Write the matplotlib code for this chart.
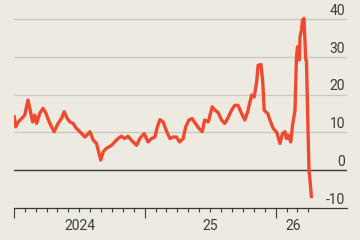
import matplotlib
matplotlib.use("Agg")
import matplotlib.pyplot as plt
import pandas as pd

dates = [
    "2024-01-01", "2024-01-06", "2024-01-13", "2024-01-22", "2024-01-31", "2024-02-09",
    "2024-02-14", "2024-02-22", "2024-02-28", "2024-03-04", "2024-03-13", "2024-03-22",
    "2024-03-30", "2024-04-10", "2024-04-22", "2024-05-03", "2024-05-13", "2024-05-20",
    "2024-05-28", "2024-06-05", "2024-06-14", "2024-06-23", "2024-07-03", "2024-07-17",
    "2024-07-31", "2024-08-09", "2024-08-18", "2024-08-23", "2024-08-30", "2024-09-06",
    "2024-09-15", "2024-09-29", "2024-10-08", "2024-10-17", "2024-10-27", "2024-11-05",
    "2024-11-14", "2024-11-23", "2024-12-08", "2024-12-17", "2024-12-29", "2025-01-09",
    "2025-01-19", "2025-01-28", "2025-02-04", "2025-02-11", "2025-02-20", "2025-03-02",
    "2025-03-11", "2025-03-20", "2025-03-29", "2025-04-07", "2025-04-17", "2025-04-24",
    "2025-05-03", "2025-05-12", "2025-05-21", "2025-05-31", "2025-06-09", "2025-06-16",
    "2025-06-26", "2025-07-07", "2025-07-14", "2025-07-24", "2025-08-02", "2025-08-11",
    "2025-08-19", "2025-08-30", "2025-09-08", "2025-09-17", "2025-09-27", "2025-10-06",
    "2025-10-14", "2025-10-18", "2025-10-25", "2025-11-01", "2025-11-08", "2025-11-12",
    "2025-11-20", "2025-11-25", "2025-11-29", "2025-12-09", "2025-12-15", "2025-12-24",
    "2026-01-03", "2026-01-12", "2026-01-19", "2026-01-26", "2026-01-30", "2026-02-04",
    "2026-02-11", "2026-02-16", "2026-02-23", "2026-02-27", "2026-03-02", "2026-03-07",
    "2026-03-09", "2026-03-13", "2026-03-16", "2026-03-20", "2026-03-23", "2026-03-25",
    "2026-03-27", "2026-03-30", "2026-04-03", "2026-04-05", "2026-04-10",
]
values = [
    14.6, 11.5, 12.8, 13.7, 14.6, 18.6,
    16.4, 12.8, 14.6, 12.4, 15.1, 16.4,
    15.1, 12.4, 10.2, 12.4, 13.8, 15.5,
    13.8, 12.8, 12.4, 11.1, 10.2, 8.8,
    10.2, 8.0, 7.1, 5.3, 2.7, 4.9,
    5.8, 6.6, 7.5, 8.4, 9.0, 8.4,
    9.0, 8.0, 6.6, 8.4, 9.7, 7.5,
    8.4, 8.8, 11.5, 13.4, 12.8, 10.2,
    8.4, 8.8, 8.8, 7.5, 8.4, 11.5,
    13.3, 13.7, 12.4, 11.1, 10.2, 13.3,
    12.8, 16.8, 16.0, 15.2, 13.3, 12.4,
    13.7, 15.9, 17.2, 17.2, 15.0, 13.3,
    15.5, 17.2, 19.9, 19.4, 23.4, 27.8,
    28.0, 23.4, 15.9, 15.0, 13.3, 11.1,
    10.0, 7.1, 9.7, 10.2, 8.4, 9.3,
    7.5, 11.9, 15.9, 30.1, 32.7, 29.2,
    35.4, 37.1, 39.8, 40.2, 33.6, 29.2,
    29.0, 15.9, 0.0, -1.8, -7.4,
]

y_ticks = [-10, 0, 10, 20, 30, 40]
year_labels = ["2024", "25", "26"]
year_label_dates = ["2024-07-02", "2025-07-02", "2026-02-17"]

BG = "#ECEAE1"
GRID = "#C9C6BD"
DARK = "#3a3a3a"
RED = "#EF4A30"

x = pd.to_datetime(dates)

fig = plt.figure(figsize=(3.6, 2.4), dpi=100, facecolor=BG)
ax = fig.add_axes([14 / 360, 0.1333, 333 / 360, 0.8496])
ax.set_facecolor(BG)

ax.set_xlim(pd.Timestamp("2024-01-01"), pd.Timestamp("2026-07-18"))
ax.set_ylim(-10, 44)

for v in y_ticks:
    if v == 0:
        ax.axhline(v, color=DARK, lw=1.0, zorder=2)
    elif v > -10:
        ax.axhline(v, color=GRID, lw=0.9, zorder=1)
    ax.annotate(str(v), xy=(1, v), xycoords=("axes fraction", "data"),
                xytext=(-1.5, 3.2), textcoords="offset points",
                ha="right", va="baseline", fontsize=10, color=DARK,
                family=["Roboto", "DejaVu Sans"])

ax.plot(x, values, color=RED, lw=2.4, solid_joinstyle="round",
        solid_capstyle="butt", zorder=3)

for s in ["top", "right", "left"]:
    ax.spines[s].set_visible(False)
ax.spines["bottom"].set_color(DARK)
ax.spines["bottom"].set_linewidth(0.9)

major = pd.to_datetime(["2024-01-01", "2025-01-01", "2026-01-01"])
minor = pd.date_range("2024-02-01", "2026-04-01", freq="MS")
minor = [m for m in minor if m.month != 1]
ax.set_xticks(major)
ax.set_xticks(minor, minor=True)
ax.set_xticklabels([])
ax.tick_params(axis="x", which="major", length=7.5, width=0.8, color=DARK)
ax.tick_params(axis="x", which="minor", length=3.2, width=0.8, color=DARK)
ax.set_yticks([])

for lab, d in zip(year_labels, year_label_dates):
    ax.annotate(lab, xy=(pd.Timestamp(d), 0), xycoords=("data", "axes fraction"),
                xytext=(0, -12.8), textcoords="offset points",
                ha="center", va="center", fontsize=10, color=DARK,
                family=["Roboto", "DejaVu Sans"])

fig.savefig("out.png", dpi=100, facecolor=BG)
